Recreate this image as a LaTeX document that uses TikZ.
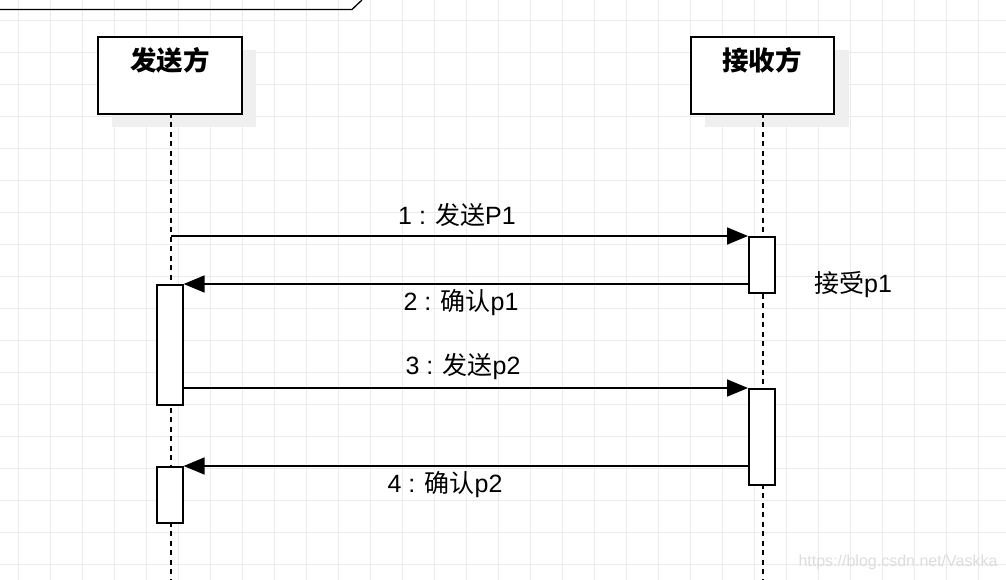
\documentclass[tikz,border=0pt]{standalone}
\usepackage{fontspec}
\setmainfont{Liberation Sans}
\newfontfamily\cjk{Noto Sans CJK SC}
\usetikzlibrary{arrows.meta}
\definecolor{gridc}{HTML}{EBEBEB}
\definecolor{shadowc}{HTML}{EFEFEF}
\definecolor{wmark}{HTML}{DDDDDD}
\tikzset{
  gridline/.style={draw=gridc, line width=0.9pt},
  headbox/.style={draw=black, line width=1.6pt, fill=white, minimum width=144pt, minimum height=77pt, anchor=north west, inner sep=0pt},
  shadowbox/.style={fill=shadowc, draw=none, minimum width=144pt, minimum height=77pt, anchor=north west, inner sep=0pt},
  lifeline/.style={draw=black, line width=1.4pt, dash pattern=on 5pt off 4.5pt},
  actbox/.style={draw=black, line width=1.6pt, fill=white, minimum width=26pt, anchor=north west, inner sep=0pt},
  msg/.style={draw=black, line width=1.6pt, -{Triangle[length=21pt,width=17pt]}},
  lbl/.style={font=\fontsize{25}{27}\selectfont, inner sep=0pt},
  title/.style={font=\fontsize{26.5}{28}\selectfont\cjk\bfseries, inner sep=0pt},
}
\begin{document}
\begin{tikzpicture}[x=1pt,y=-1pt]
\useasboundingbox (0,0) rectangle (1006,580);
\fill[white] (0,0) rectangle (1006,580);
% grid
\foreach \gx in {18,50,...,1006} {\draw[gridline] (\gx,0) -- (\gx,580);}
\foreach \gy in {20,52,...,580} {\draw[gridline] (0,\gy) -- (1006,\gy);}
% frame label (cut off)
\draw[black, line width=1.3pt] (0,9.5) -- (352,9.5) -- (362,0);
% shadows
\node[shadowbox] (sh1) at (112,50) {};
\node[shadowbox] (sh2) at (705,50) {};
% lifelines
\coordinate (sl0) at (171,113);
\coordinate (sl1) at (171,580);
\coordinate (rl0) at (763,113);
\coordinate (rl1) at (763,580);
\draw[lifeline] (sl0) -- (sl1);
\draw[lifeline] (rl0) -- (rl1);
% headers
\node[headbox] (snd) at (97,36) {};
\node[headbox, minimum width=143pt] (rcv) at (690,36) {};
\node[title] (sndt) at (170,60) {发送方};
\node[title] (rcvt) at (762,60) {接收方};
% activations
\node[actbox, minimum height=56pt] (ra1) at (748,236) {};
\node[actbox, minimum height=120pt] (sa1) at (156,284) {};
\node[actbox, minimum height=96pt] (ra2) at (748,388) {};
\node[actbox, minimum height=56pt] (sa2) at (156,466) {};
% message endpoints
\coordinate (m1s) at (171,236);
\coordinate (m2s) at (748,284);
\coordinate (m3s) at (182,388);
\coordinate (m4s) at (748,466);
\draw[msg] (m1s) -- (ra1.north west);
\draw[msg] (m2s) -- (sa1.north east);
\draw[msg] (m3s) -- (ra2.north west);
\draw[msg] (m4s) -- (sa2.north east);
% labels
\node[lbl] (l1) at (457,215) {1 : {\cjk 发送}P1};
\node[lbl] (l2) at (461,303) {2 : {\cjk 确认}p1};
\node[lbl] (l3) at (463,367) {3 : {\cjk 发送}p2};
\node[lbl] (l4) at (445,485) {4 : {\cjk 确认}p2};
\node[lbl] (acc) at (853,285) {{\cjk 接受}p1};
\node[font=\fontsize{16}{17}\selectfont, text=wmark, inner sep=0pt] (wm) at (898,562) {https://blog.csdn.net/Vaskka};
\end{tikzpicture}
\end{document}
